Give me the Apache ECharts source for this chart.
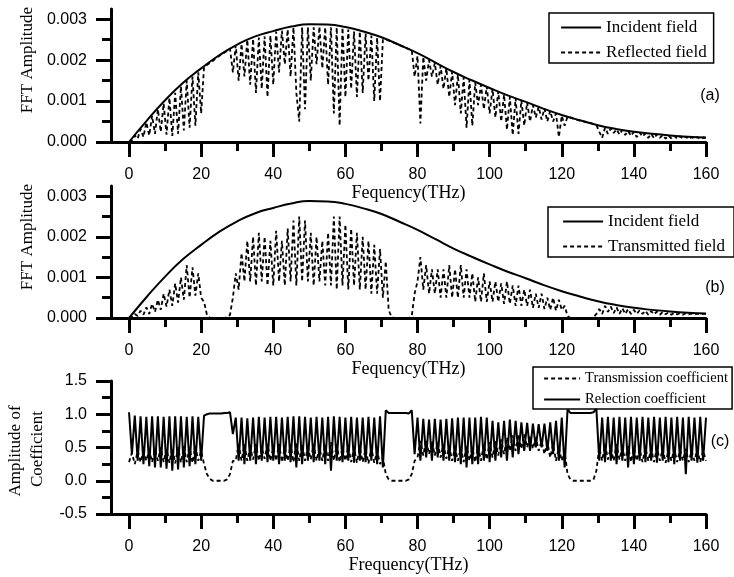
<!DOCTYPE html>
<html>
<head>
<meta charset="utf-8">
<script src="https://cdn.jsdelivr.net/npm/echarts@6/dist/echarts.min.js"></script>
<style>
html, body { margin: 0; padding: 0; background: #fff; }
#chart { width: 734px; height: 577px; }
</style>
</head>
<body>
<div id="chart"></div>
<script>
// dense spectra every 0.8 THz, incident every 5 THz
const STEP = 0.8;
const INCIDENT_STEP = 5;

const incident = [
  0, 0.00053, 0.00102, 0.00145, 0.0018, 0.00212, 0.00238, 0.00258, 0.00271, 0.00282,
  0.00288, 0.00287, 0.00281, 0.0027, 0.00256, 0.00237, 0.00217, 0.00194, 0.00171, 0.00151,
  0.00132, 0.00114, 0.00098, 0.00081, 0.00066, 0.00053, 0.00041, 0.00032, 0.00025, 0.0002,
  0.00016, 0.00013, 0.00011
];

const reflected = [
  0, 0.00004, 0.00016, 0.00008, 0.00032, 0.00012, 0.00048, 0.00016, 0.00064, 0.0002,
  0.0008, 0.00025, 0.00094, 0.00018, 0.00108, 0.00015, 0.0012, 0.0002, 0.00136, 0.00028,
  0.0015, 0.00035, 0.0016, 0.0004, 0.0017, 0.0007, 0.00183, 0.00188, 0.00193, 0.00198,
  0.00204, 0.00209, 0.00214, 0.00218, 0.00223, 0.00228, 0.0017, 0.00236, 0.0015, 0.0024,
  0.0016, 0.0025, 0.0014, 0.00252, 0.0012, 0.00255, 0.0013, 0.00258, 0.0011, 0.0026,
  0.0014, 0.0027, 0.0017, 0.00272, 0.0019, 0.00275, 0.0016, 0.0028, 0.0012, 0.0005,
  0.0028, 0.0008, 0.0028, 0.0015, 0.0028, 0.0019, 0.00282, 0.0018, 0.0028, 0.0014,
  0.0028, 0.0007, 0.0028, 0.0004, 0.0028, 0.0011, 0.00275, 0.0013, 0.0027, 0.0011,
  0.0027, 0.0012, 0.00265, 0.0015, 0.0026, 0.001, 0.00255, 0.001, 0.0025, 0.0025,
  0.00248, 0.00245, 0.00242, 0.00239, 0.00236, 0.00233, 0.0023, 0.00227, 0.00224, 0.0016,
  0.0021, 0.00045, 0.00208, 0.0015, 0.002, 0.0016, 0.00193, 0.0014, 0.00186, 0.0013,
  0.0018, 0.0011, 0.00172, 0.0009, 0.00165, 0.0007, 0.00158, 0.00035, 0.00152, 0.0004,
  0.00145, 0.0009, 0.0014, 0.0008, 0.00136, 0.0007, 0.0013, 0.0006, 0.00124, 0.0005,
  0.00116, 0.0003, 0.0011, 0.00017, 0.00107, 0.0002, 0.00102, 0.0004, 0.00097, 0.0005,
  0.0009, 0.0006, 0.00086, 0.00055, 0.00082, 0.0005, 0.00076, 0.0005, 0.0007, 0.00012,
  0.00064, 0.0004, 0.00062, 0.0006, 0.00057, 0.00055, 0.00053, 0.00051, 0.0005, 0.00048,
  0.00046, 0.00044, 0.00042, 0.00025, 0.0001, 0.00035, 0.0002, 0.00033, 0.00022, 0.00031,
  0.00018, 0.00029, 0.00017, 0.00027, 0.00015, 0.00025, 0.00012, 0.00023, 0.00013, 0.00021,
  0.0001, 0.0002, 0.00009, 0.00019, 0.0001, 0.00017, 0.00008, 0.00016, 0.00009, 0.00015,
  0.00008, 0.00014, 0.00008, 0.00013, 0.00007, 0.00012, 0.00008, 0.00012, 0.00007, 0.00011,
  0.0001
];

const transmitted = [
  0, 0.00003, 0.0001, 0.00005, 0.00018, 0.00008, 0.00026, 0.0001, 0.00035, 0.00015,
  0.00045, 0.0002, 0.0006, 0.00028, 0.0007, 0.0003, 0.00085, 0.00038, 0.001, 0.00045,
  0.0013, 0.0005, 0.00125, 0.00055, 0.0011, 0.0005, 0.0004, 0.00008, 0.00001, 0,
  0, 0, 0, 0, 0.00001, 0.00008, 0.0005, 0.0011, 0.0007, 0.0016,
  0.0009, 0.0019, 0.0009, 0.002, 0.0008, 0.0021, 0.0009, 0.002, 0.0008, 0.0019,
  0.0008, 0.00215, 0.0009, 0.0019, 0.0008, 0.0022, 0.0009, 0.0024, 0.0008, 0.0025,
  0.0009, 0.0024, 0.0009, 0.0021, 0.0008, 0.002, 0.0009, 0.0019, 0.0008, 0.0021,
  0.0008, 0.0025, 0.0007, 0.0025, 0.0008, 0.0023, 0.0007, 0.0022, 0.0008, 0.0021,
  0.0007, 0.002, 0.0007, 0.0019, 0.0006, 0.0018, 0.0006, 0.0017, 0.0005, 0.0014,
  0.0002, 0.00002, 0, 0, 0, 0, 0, 0, 0.00005, 0.0006,
  0.0009, 0.0015, 0.0007, 0.0013, 0.0006, 0.0012, 0.0006, 0.0012, 0.0005, 0.0012,
  0.0005, 0.0013, 0.0005, 0.0012, 0.0005, 0.0013, 0.0005, 0.0012, 0.0005, 0.0011,
  0.0004, 0.001, 0.0004, 0.0011, 0.0004, 0.0009, 0.0004, 0.0009, 0.0004, 0.00085,
  0.00035, 0.0009, 0.00035, 0.0008, 0.0003, 0.0008, 0.0003, 0.0007, 0.0003, 0.0007,
  0.00025, 0.0006, 0.00025, 0.0006, 0.00022, 0.0005, 0.0002, 0.0005, 0.00018, 0.00045,
  0.0002, 0.0003, 0.00005, 0, 0, 0, 0, 0, 0, 0,
  0, 0.00002, 0.0001, 0.00022, 0.0001, 0.0003, 0.00015, 0.00028, 0.00012, 0.00026,
  0.0001, 0.00024, 0.0001, 0.00022, 0.0001, 0.0002, 0.0001, 0.00019, 0.0001, 0.00018,
  0.00008, 0.00017, 0.00009, 0.00016, 0.00008, 0.00015, 0.00009, 0.00014, 0.00008, 0.00013,
  0.00009, 0.00012, 0.00008, 0.00012, 0.00009, 0.00011, 0.00008, 0.00011, 0.00009, 0.0001,
  0.0001
];

const reflCoef = [
  1.03, 0.4, 0.98, 0.3, 0.97, 0.25, 0.96, 0.22, 0.97, 0.2,
  0.97, 0.2, 0.96, 0.18, 0.97, 0.15, 0.97, 0.17, 0.97, 0.2,
  0.96, 0.22, 0.97, 0.25, 0.96, 0.3, 0.98, 1.0, 1.01, 1.01,
  1.01, 1.01, 1.01, 1.02, 1.02, 1.03, 0.7, 0.95, 0.3, 0.95,
  0.25, 0.94, 0.3, 0.95, 0.25, 0.96, 0.3, 0.95, 0.28, 0.96,
  0.3, 0.96, 0.25, 0.95, 0.3, 0.96, 0.28, 0.97, 0.2, 0.97,
  0.25, 0.96, 0.3, 0.95, 0.28, 0.96, 0.3, 0.95, 0.25, 0.96,
  0.15, 0.97, 0.3, 0.96, 0.28, 0.95, 0.3, 0.96, 0.27, 0.95,
  0.3, 0.95, 0.28, 0.96, 0.3, 0.95, 0.25, 0.97, 0.2, 1.06,
  1.02, 1.02, 1.02, 1.02, 1.02, 1.02, 1.02, 1.01, 1.06, 0.4,
  0.95, 0.3, 0.93, 0.35, 0.92, 0.3, 0.93, 0.35, 0.92, 0.3,
  0.93, 0.3, 0.94, 0.28, 0.95, 0.25, 0.95, 0.2, 0.95, 0.25,
  0.95, 0.25, 0.96, 0.3, 0.95, 0.28, 0.9, 0.3, 0.88, 0.35,
  0.9, 0.3, 0.92, 0.35, 0.9, 0.4, 0.88, 0.45, 0.87, 0.45,
  0.86, 0.5, 0.85, 0.5, 0.86, 0.45, 0.88, 0.4, 0.9, 0.3,
  0.95, 0.2, 1.07, 1.02, 1.02, 1.02, 1.02, 1.02, 1.02, 1.02,
  1.02, 1.03, 1.08, 0.3, 0.95, 0.28, 0.96, 0.3, 0.95, 0.25,
  0.96, 0.3, 0.95, 0.2, 0.96, 0.25, 0.95, 0.3, 0.96, 0.28,
  0.95, 0.3, 0.96, 0.27, 0.95, 0.3, 0.96, 0.28, 0.95, 0.25,
  0.96, 0.3, 0.95, 0.1, 0.96, 0.3, 0.95, 0.27, 0.96, 0.3,
  0.95
];

const transCoef = [
  0.28, 0.42, 0.25, 0.45, 0.28, 0.44, 0.3, 0.46, 0.28, 0.47,
  0.3, 0.5, 0.28, 0.48, 0.27, 0.5, 0.26, 0.5, 0.27, 0.52,
  0.28, 0.5, 0.27, 0.52, 0.3, 0.45, 0.25, 0.1, 0.03, 0,
  0, 0, 0, 0, 0.02, 0.1, 0.3, 0.3, 0.55, 0.3,
  0.55, 0.3, 0.5, 0.32, 0.55, 0.3, 0.5, 0.33, 0.55, 0.3,
  0.5, 0.3, 0.55, 0.28, 0.5, 0.3, 0.55, 0.28, 0.58, 0.3,
  0.55, 0.3, 0.5, 0.32, 0.55, 0.3, 0.5, 0.3, 0.55, 0.3,
  0.58, 0.3, 0.55, 0.28, 0.5, 0.3, 0.52, 0.28, 0.5, 0.27,
  0.5, 0.28, 0.48, 0.26, 0.5, 0.27, 0.45, 0.25, 0.35, 0.1,
  0.02, 0, 0, 0, 0, 0, 0, 0.02, 0.1, 0.3,
  0.35, 0.6, 0.38, 0.62, 0.4, 0.6, 0.38, 0.58, 0.35, 0.55,
  0.33, 0.52, 0.3, 0.5, 0.3, 0.5, 0.28, 0.52, 0.3, 0.5,
  0.28, 0.52, 0.3, 0.55, 0.32, 0.58, 0.35, 0.6, 0.38, 0.62,
  0.4, 0.65, 0.45, 0.68, 0.45, 0.7, 0.48, 0.7, 0.5, 0.68,
  0.48, 0.65, 0.45, 0.6, 0.4, 0.58, 0.35, 0.55, 0.3, 0.5,
  0.3, 0.45, 0.1, 0.02, 0, 0, 0, 0, 0, 0,
  0, 0.02, 0.15, 0.5, 0.3, 0.55, 0.32, 0.5, 0.3, 0.55,
  0.32, 0.5, 0.3, 0.52, 0.28, 0.5, 0.3, 0.48, 0.28, 0.5,
  0.3, 0.48, 0.28, 0.5, 0.3, 0.48, 0.27, 0.46, 0.3, 0.48,
  0.28, 0.46, 0.3, 0.48, 0.28, 0.45, 0.3, 0.47, 0.28, 0.45,
  0.3
];

const freqTicks = [0, 20, 40, 60, 80, 100, 120, 140, 160];
const freqMinor = [10, 30, 50, 70, 90, 110, 130, 150];
const fftTicks = [0, 0.001, 0.002, 0.003];
const fftMinor = [0.0005, 0.0015, 0.0025];
const coefTicks = [-0.5, 0, 0.5, 1.0, 1.5];
const coefMinor = [-0.25, 0.25, 0.75, 1.25];

const SERIF = 'Liberation Serif';
const SANS = 'Liberation Sans';

const chart = echarts.init(document.getElementById('chart'));

function toXY(arr, step) {
  return arr.map((v, i) => [+(i * step).toFixed(2), v]);
}

function xAxes(grid, name, gap) {
  const base = { type: 'value', gridIndex: grid, min: -5, max: 160, position: 'bottom', splitLine: { show: false } };
  return [
    Object.assign({}, base, {
      name: name, nameLocation: 'middle', nameGap: gap,
      nameTextStyle: { fontFamily: SERIF, fontSize: 18, color: '#000' },
      axisLine: { onZero: false, lineStyle: { color: '#000', width: 3 } },
      axisTick: { customValues: freqTicks, length: 15, lineStyle: { color: '#000', width: 3 } },
      axisLabel: { customValues: freqTicks, margin: 25, fontFamily: SANS, fontSize: 16, color: '#000' }
    }),
    Object.assign({}, base, {
      axisLine: { show: false, onZero: false },
      axisTick: { customValues: freqMinor, length: 9, lineStyle: { color: '#000', width: 3 } },
      axisLabel: { show: false }
    })
  ];
}

function yAxes(grid, min, max, ticks, minor, digits) {
  const base = { type: 'value', gridIndex: grid, min: min, max: max, position: 'left', splitLine: { show: false } };
  return [
    Object.assign({}, base, {
      axisLine: { onZero: false, lineStyle: { color: '#000', width: 3 } },
      axisTick: { customValues: ticks, length: 15, lineStyle: { color: '#000', width: 3 } },
      axisLabel: {
        customValues: ticks, margin: 24, fontFamily: SANS, fontSize: 16, color: '#000',
        formatter: v => v.toFixed(digits)
      }
    }),
    Object.assign({}, base, {
      axisLine: { show: false, onZero: false },
      axisTick: { customValues: minor, length: 9, lineStyle: { color: '#000', width: 3 } },
      axisLabel: { show: false }
    })
  ];
}

const solid = w => ({ color: '#000', width: w, type: 'solid' });
const dashed = w => ({ color: '#000', width: w, type: [4, 3] });

function legend(left, top, names, size, pad, gap, w, h) {
  return {
    left: left, top: top, orient: 'vertical', data: names,
    borderColor: '#000', borderWidth: 1.5, padding: pad, itemGap: gap,
    itemWidth: w, itemHeight: h,
    itemStyle: { opacity: 0 },
    lineStyle: { width: 2.2 },
    textStyle: { fontFamily: SERIF, fontSize: size, color: '#000' },
    selectedMode: false
  };
}

function label(x, y, text, size, font, rot) {
  return {
    type: 'text', x: x, y: y, rotation: rot || 0,
    style: { text: text, fontSize: size, fontFamily: font, fill: '#000', textAlign: 'center', textVerticalAlign: 'middle' }
  };
}

chart.setOption({
  animation: false,
  backgroundColor: '#fff',
  grid: [
    { left: 111, top: 9, width: 595, height: 133 },
    { left: 111, top: 186, width: 595, height: 132 },
    { left: 111, top: 381, width: 595, height: 133 }
  ],
  xAxis: [].concat(
    xAxes(0, 'Fequency(THz)', 38),
    xAxes(1, 'Fequency(THz)', 38),
    xAxes(2, 'Frequency(THz)', 39)
  ),
  yAxis: [].concat(
    yAxes(0, 0, 0.00325, fftTicks, fftMinor, 3),
    yAxes(1, 0, 0.00325, fftTicks, fftMinor, 3),
    yAxes(2, -0.5, 1.5, coefTicks, coefMinor, 1)
  ),
  legend: [
    legend(549, 13, ['Incident field', 'Reflected field'], 17, [6, 7, 2, 11], 8, 40, 14),
    legend(548, 207, ['Incident field', 'Transmitted field'], 17, [6, 9, 2, 14], 8, 40, 14),
    legend(533, 367, ['Transmission coefficient', 'Relection coefficient'], 14.5, [4, 4, 2, 10], 6, 36, 12)
  ],
  graphic: [
    label(28, 60, 'FFT Amplitude', 17, SERIF, Math.PI / 2),
    label(28, 237, 'FFT Amplitude', 17, SERIF, Math.PI / 2),
    label(16, 451, 'Amplitude of', 17, SERIF, Math.PI / 2),
    label(38, 449, 'Coefficient', 17, SERIF, Math.PI / 2),
    label(710, 96, '(a)', 16, SANS),
    label(715, 288, '(b)', 16, SANS),
    label(720, 442, '(c)', 16, SANS)
  ],
  series: [
    { name: 'Incident field', type: 'line', xAxisIndex: 0, yAxisIndex: 0, smooth: true, symbol: 'none',
      lineStyle: solid(2), data: toXY(incident, INCIDENT_STEP) },
    { name: 'Reflected field', type: 'line', xAxisIndex: 0, yAxisIndex: 0, symbol: 'none',
      lineStyle: dashed(1.8), data: toXY(reflected, STEP) },
    { name: 'Incident field', type: 'line', xAxisIndex: 2, yAxisIndex: 2, smooth: true, symbol: 'none',
      lineStyle: solid(2), data: toXY(incident, INCIDENT_STEP) },
    { name: 'Transmitted field', type: 'line', xAxisIndex: 2, yAxisIndex: 2, symbol: 'none',
      lineStyle: dashed(1.8), data: toXY(transmitted, STEP) },
    { name: 'Transmission coefficient', type: 'line', xAxisIndex: 4, yAxisIndex: 4, symbol: 'none',
      lineStyle: dashed(1.8), data: toXY(transCoef, STEP) },
    { name: 'Relection coefficient', type: 'line', xAxisIndex: 4, yAxisIndex: 4, symbol: 'none',
      lineStyle: solid(2), data: toXY(reflCoef, STEP) }
  ]
});
</script>
</body>
</html>
